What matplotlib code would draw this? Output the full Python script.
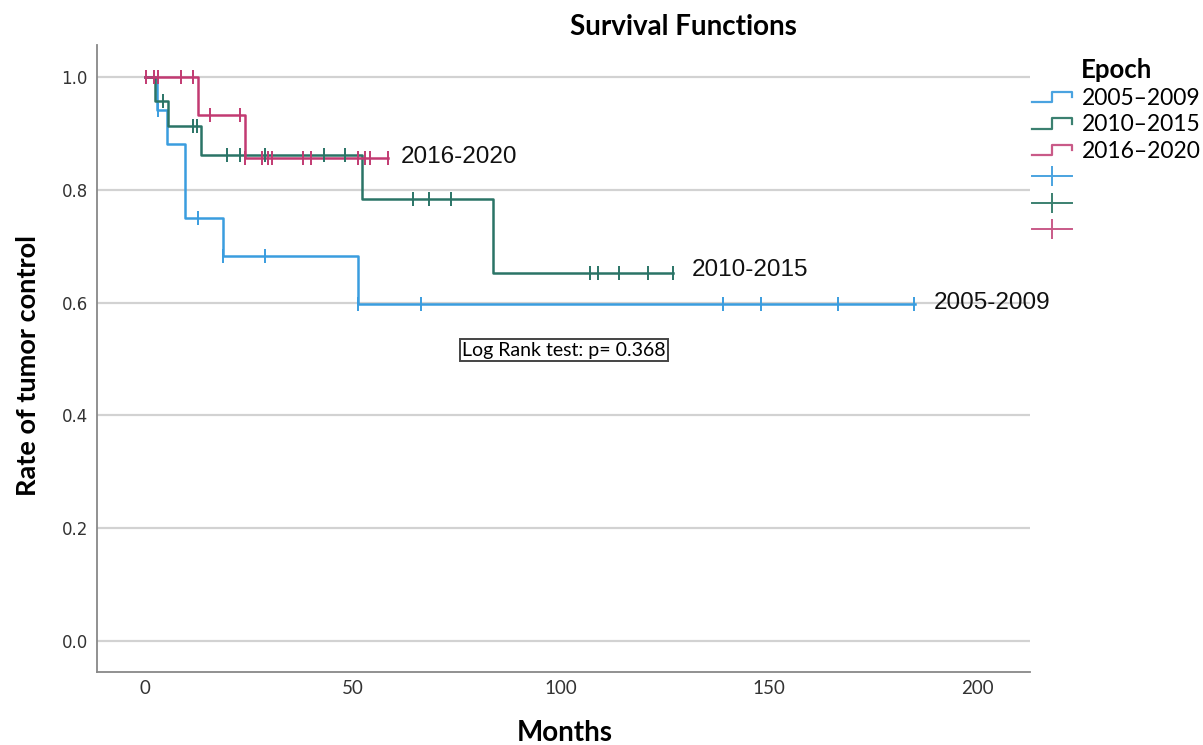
import matplotlib
matplotlib.use("Agg")
import matplotlib.pyplot as plt
from matplotlib.lines import Line2D
from matplotlib.legend_handler import HandlerBase

# Kaplan-Meier steps (months, survival)
epochs = ["2005-2009", "2010-2015", "2016-2020"]
legend_labels = ["2005\u20132009", "2010\u20132015", "2016\u20132020"]

t_0509 = [0, 3, 5.3, 9.6, 18.8, 51.2, 185]
s_0509 = [1.0, 0.941, 0.882, 0.750, 0.682, 0.597, 0.597]
cens_t_0509 = [3.2, 12.7, 18.9, 28.8, 51.2, 66.3, 139, 148, 166.6, 184.9]
cens_s_0509 = [0.941, 0.750, 0.682, 0.682, 0.597, 0.597, 0.597, 0.597, 0.597, 0.597]

t_1015 = [0, 2.5, 5.5, 13.5, 52.2, 83.7, 127]
s_1015 = [1.0, 0.957, 0.913, 0.862, 0.784, 0.652, 0.652]
cens_t_1015 = [4.4, 11.6, 12.5, 19.7, 22.8, 28.8, 43, 48, 64.4, 68.3, 73.6, 107, 108.9, 114, 121, 127]
cens_s_1015 = [0.957, 0.913, 0.913, 0.862, 0.862, 0.862, 0.862, 0.862,
               0.784, 0.784, 0.784, 0.652, 0.652, 0.652, 0.652, 0.652]

t_1620 = [0, 12.8, 24, 58.4]
s_1620 = [1.0, 0.933, 0.856, 0.856]
cens_t_1620 = [0.3, 2.2, 3.2, 8.7, 11.6, 15.6, 22.8, 24, 28.2, 29.6, 30.5, 38, 40, 51.2, 52.9, 54.1, 58.4]
cens_s_1620 = [1.0, 1.0, 1.0, 1.0, 1.0, 0.933, 0.933, 0.856, 0.856, 0.856, 0.856,
               0.856, 0.856, 0.856, 0.856, 0.856, 0.856]

end_labels_x = [189.5, 131.5, 61.5]
end_labels_y = [0.600, 0.658, 0.858]

colors = ["#3a9ddf", "#2a7466", "#c23a72"]
legend_colors = ["#4aa3e0", "#3b8070", "#c95a88"]


class HandlerStep(HandlerBase):
    def create_artists(self, legend, orig_handle, xdescent, ydescent,
                       width, height, fontsize, trans):
        x0 = -xdescent
        y0 = -ydescent
        xs = [x0, x0 + width * 0.5, x0 + width * 0.5, x0 + width, x0 + width]
        ys = [y0 + height * 0.15, y0 + height * 0.15, y0 + height * 0.8,
              y0 + height * 0.8, y0 + height * 0.45]
        ln = Line2D(xs, ys, color=orig_handle.get_color(), lw=1.6)
        ln.set_transform(trans)
        return [ln]


fig = plt.figure(figsize=(12.03, 7.45), dpi=100)
ax = fig.add_axes([0.0806, 0.098, 0.7755, 0.8416])

series = [
    (t_0509, s_0509, cens_t_0509, cens_s_0509),
    (t_1015, s_1015, cens_t_1015, cens_s_1015),
    (t_1620, s_1620, cens_t_1620, cens_s_1620),
]

for i, (t, s, ct, cs) in enumerate(series):
    ax.step(t, s, where="post", color=colors[i], lw=1.8, zorder=3)
    ax.plot(ct, cs, linestyle="none", marker="|", markersize=9.5,
            markeredgewidth=1.4, color=colors[i], zorder=4)
    ax.text(end_labels_x[i], end_labels_y[i], epochs[i], fontsize=17.5,
            family="Liberation Sans", va="center", ha="left", color="#111111")

ax.set_xlim(-11.5, 212.7)
ax.set_ylim(-0.055, 1.057)
ax.set_xticks([0, 50, 100, 150, 200])
ax.set_yticks([0.0, 0.2, 0.4, 0.6, 0.8, 1.0])
ax.set_yticklabels(["0.0", "0.2", "0.4", "0.6", "0.8", "1.0"])
ax.tick_params(axis="y", length=0, labelsize=12, labelcolor="#333333", pad=6.5)
ax.tick_params(axis="x", length=0, labelsize=13.5, labelcolor="#333333", pad=6)
for lab in ax.get_xticklabels():
    lab.set_family("Lato")
ax.grid(axis="y", color="#d2d2d2", lw=1.6)
ax.set_axisbelow(True)
ax.spines["top"].set_visible(False)
ax.spines["right"].set_visible(False)
ax.spines["left"].set_color("#888888")
ax.spines["bottom"].set_color("#888888")
ax.spines["left"].set_linewidth(1.3)
ax.spines["bottom"].set_linewidth(1.3)

fig.text(565 / 1203, 1 - 733 / 745, "Months", fontsize=20, fontweight="bold",
         family="Lato", ha="center", va="center")
fig.text(28 / 1203, 1 - 365 / 745, "Rate of tumor control", fontsize=19.5, fontweight="bold",
         family="Lato", ha="center", va="center", rotation=90)
fig.text(683 / 1203, 1 - 27 / 745, "Survival Functions", fontsize=20, fontweight="bold",
         family="Lato", ha="center", va="center")

ax.text(100.7, 0.516, "Log Rank test: p= 0.368", fontsize=14, family="Lato",
        ha="center", va="center",
        bbox=dict(boxstyle="square,pad=0.12", fc="white", ec="#444444", lw=1.4))

handles = [Line2D([], [], color=c) for c in legend_colors]
handles += [Line2D([], [], color=c, marker="|", markersize=15, markeredgewidth=1.4, lw=1.4)
            for c in legend_colors]
labels = legend_labels + ["", "", ""]
hmap = {h: HandlerStep() for h in handles[:3]}
leg = fig.legend(handles, labels, handler_map=hmap, loc="upper left",
                 bbox_to_anchor=(0.858, 0.922), frameon=False, title="Epoch",
                 prop={"family": "Lato", "size": 16.5}, handlelength=1.75,
                 handletextpad=0.4, labelspacing=0.24, borderaxespad=0,
                 borderpad=0)
leg.get_title().set_fontweight("bold")
leg.get_title().set_fontsize(18.5)
leg.get_title().set_family("Lato")

fig.savefig("out.png", dpi=100)
